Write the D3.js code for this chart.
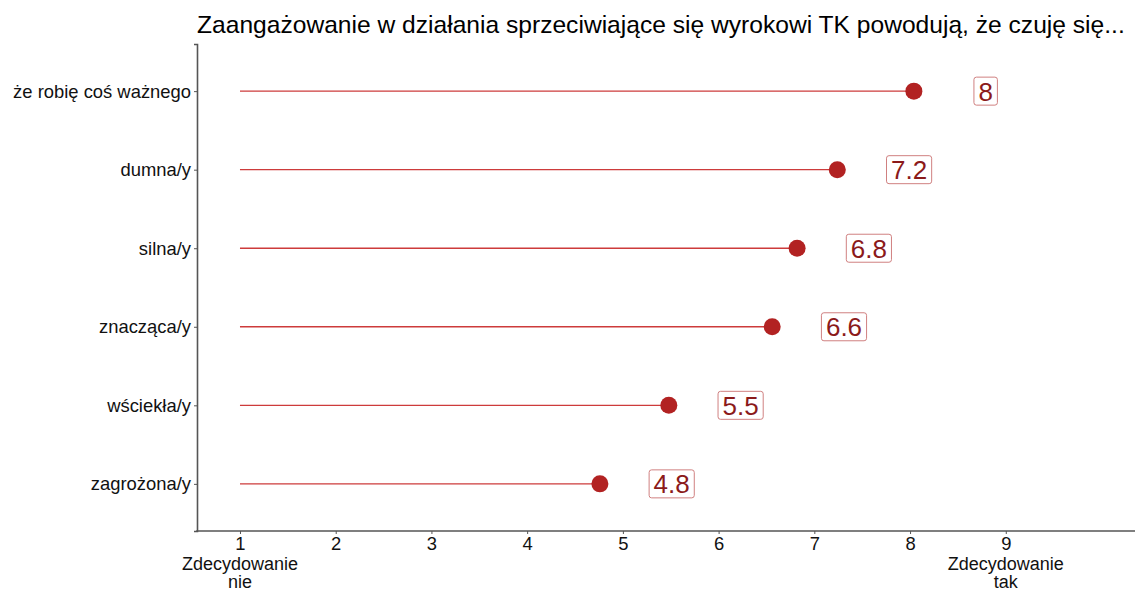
<!DOCTYPE html>
<html>
<head>
<meta charset="utf-8">
<script src="https://cdn.jsdelivr.net/npm/d3@7"></script>
<style>
  body { margin: 0; background: #fff; }
  text { font-family: "Liberation Sans", Arial, sans-serif; }
</style>
</head>
<body>
<div id="chart"></div>
<script>
var width = 1135;
var height = 592;

// data
var categories = ["że robię coś ważnego", "dumna/y", "silna/y", "znacząca/y", "wściekła/y", "zagrożona/y"];
var values = [8.04, 7.24, 6.82, 6.56, 5.48, 4.76];
var tickValues = [1, 2, 3, 4, 5, 6, 7, 8, 9];
var titleText = "Zaangażowanie w działania sprzeciwiające się wyrokowi TK powodują, że czuję się...";
var lowLabel = ["Zdecydowanie", "nie"];
var highLabel = ["Zdecydowanie", "tak"];
var labelOffset = 0.75;

var pointColor = "#b22222";
var segColor = "#cd3b3b";
var labelColor = "#8b1a1a";

var margin = { top: 44, right: 0, bottom: 61, left: 197 };

var svg = d3.select("#chart").append("svg")
    .attr("width", width)
    .attr("height", height);

var x = d3.scaleLinear()
    .domain([0.551, 10.35])
    .range([margin.left, width - margin.right]);

var y = d3.scalePoint()
    .domain(categories)
    .range([margin.top, height - margin.bottom])
    .padding(0.6);

/*====================================================================
       title
    ==================================================================*/
svg.append("text")
    .attr("x", margin.left)
    .attr("y", 33)
    .attr("font-size", "24.6px")
    .attr("fill", "#000")
    .text(titleText);

/*====================================================================
       axes
    ==================================================================*/
var xAxis = svg.append("g")
    .attr("transform", "translate(0," + (height - margin.bottom) + ")")
    .call(d3.axisBottom(x).tickValues(tickValues).tickSize(3).tickPadding(3).tickFormat(d3.format("d")));

var yAxis = svg.append("g")
    .attr("transform", "translate(" + margin.left + ",0)")
    .call(d3.axisLeft(y).tickSize(3).tickPadding(3));

[xAxis, yAxis].forEach(function (ax) {
    ax.select(".domain").attr("stroke", "#555").attr("stroke-width", 1.6);
    ax.selectAll(".tick line").attr("stroke", "#555").attr("stroke-width", 1);
    ax.selectAll(".tick text")
        .attr("fill", "#111")
        .attr("font-size", "18.4px")
        .attr("font-family", "Liberation Sans, Arial, sans-serif");
});

// extend x domain line to the left of the y axis line
xAxis.select(".domain").attr("d", "M" + (margin.left - 0.8) + ",0H" + width);

// end labels below ticks 1 and 9
var ends = [{ v: tickValues[0], lines: lowLabel }, { v: tickValues[tickValues.length - 1], lines: highLabel }];
ends.forEach(function (e) {
    var t = svg.append("text")
        .attr("text-anchor", "middle")
        .attr("font-size", "18px")
        .attr("fill", "#111");
    e.lines.forEach(function (l, i) {
        t.append("tspan")
            .attr("x", x(e.v))
            .attr("y", height - margin.bottom + 38.5 + i * 18.5)
            .text(l);
    });
});

/*====================================================================
       lollipops
    ==================================================================*/
var rows = categories.map(function (c, i) { return { cat: c, val: values[i] }; });

svg.append("g").selectAll("line")
    .data(rows)
    .enter().append("line")
    .attr("x1", x(1))
    .attr("x2", function (d) { return x(d.val); })
    .attr("y1", function (d) { return y(d.cat); })
    .attr("y2", function (d) { return y(d.cat); })
    .attr("stroke", segColor)
    .attr("stroke-width", 1.3);

svg.append("g").selectAll("circle")
    .data(rows)
    .enter().append("circle")
    .attr("cx", function (d) { return x(d.val); })
    .attr("cy", function (d) { return y(d.cat); })
    .attr("r", 8.5)
    .attr("fill", pointColor);

// value labels with rounded boxes
var labels = svg.append("g").selectAll("g")
    .data(rows)
    .enter().append("g")
    .attr("transform", function (d) { return "translate(" + x(d.val + labelOffset) + "," + y(d.cat) + ")"; });

labels.append("text")
    .attr("text-anchor", "middle")
    .attr("dy", "0.36em")
    .attr("font-size", "26px")
    .attr("fill", labelColor)
    .text(function (d) { return String(Math.round(d.val * 10) / 10); });

labels.each(function () {
    var g = d3.select(this);
    var bb = g.select("text").node().getBBox();
    g.insert("rect", "text")
        .attr("x", bb.x - 4.5)
        .attr("y", -14)
        .attr("width", bb.width + 9)
        .attr("height", 28)
        .attr("rx", 2.5)
        .attr("fill", "#fff")
        .attr("stroke", "#d08080")
        .attr("stroke-width", 1);
});
</script>
</body>
</html>
